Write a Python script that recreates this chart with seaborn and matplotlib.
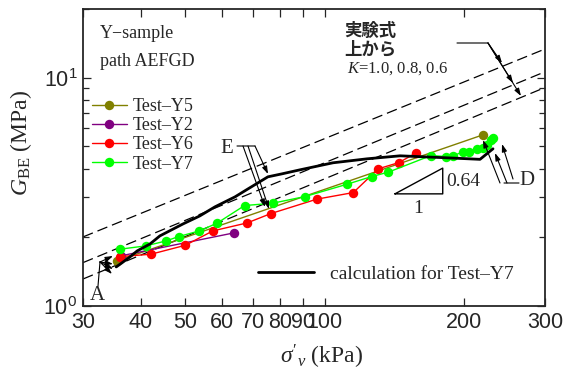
import numpy as np
import pandas as pd
import matplotlib
matplotlib.use('Agg')
import matplotlib.pyplot as plt
import seaborn as sns
from matplotlib.lines import Line2D
from matplotlib.ticker import FixedLocator, NullLocator, LogLocator, NullFormatter

# -------------------------
# Data
# -------------------------
y5_x = [35.5, 220.2]
y5_g = [1.575, 5.62]

y2_x = [36.3, 63.6]
y2_g = [1.66, 2.09]

y6_x = [36.0, 42.1, 50.0, 57.3, 68.0, 76.5, 96.2, 115.4, 130.7, 144.9, 157.9]
y6_g = [1.645, 1.686, 1.846, 2.133, 2.312, 2.54, 2.938, 3.14, 3.99, 4.25, 4.69]

y7_x = [36.0, 41.0, 45.4, 48.3, 53.6, 58.5, 67.1, 77.2, 90.7, 112.0, 126.5, 137.4,
        170.0, 183.2, 189.4, 199.0, 205.7, 214.1, 220.6, 224.4, 229.2, 231.0]
y7_g = [1.773, 1.833, 1.928, 2.014, 2.133, 2.305, 2.754, 2.82, 3.016, 3.418, 3.691, 3.858,
        4.562, 4.516, 4.549, 4.722, 4.722, 4.867, 4.917, 5.083, 5.347, 5.44]

# calculation for Test-Y7
calc_x = [35.4, 36.4, 37.9, 39.3, 41.9, 44.0, 49.4, 53.7, 57.9, 64.0, 68.3, 75.4,
          80.9, 88.5, 104.3, 123.6, 145.7, 184.1, 217.0, 231.5]
calc_g = [1.483, 1.544, 1.64, 1.743, 1.87, 2.028, 2.289, 2.481, 2.718, 3.007, 3.26, 3.68,
          3.793, 3.95, 4.24, 4.413, 4.549, 4.458, 4.39, 4.883]

# empirical equation, K = 1.0, 0.8, 0.6 (values at sigma'v = 30 and 300 kPa)
emp_x = [30, 300]
emp_k10 = [2.007, 13.36]
emp_k08 = [1.549, 10.62]
emp_k06 = [1.313, 9.06]

series = [('Test\u2013Y5', y5_x, y5_g, '#808000'),
          ('Test\u2013Y2', y2_x, y2_g, '#800080'),
          ('Test\u2013Y6', y6_x, y6_g, '#ff0000'),
          ('Test\u2013Y7', y7_x, y7_g, '#00ff00')]

xticks = [30, 40, 50, 60, 70, 80, 90, 100, 200, 300]

# -------------------------
# Style
# -------------------------
sns.set_style('ticks')
plt.rcParams['font.family'] = ['Liberation Sans', 'DejaVu Sans']
plt.rcParams['mathtext.fontset'] = 'custom'
plt.rcParams['mathtext.it'] = 'Liberation Serif:italic'
plt.rcParams['mathtext.rm'] = 'Liberation Serif'
SERIF = ['Liberation Serif', 'DejaVu Serif']
CJK = ['Noto Sans CJK JP', 'DejaVu Sans']

fig = plt.figure(figsize=(5.64, 3.74), dpi=100)
ax = fig.add_axes([83 / 564, 1 - 306 / 374, 462 / 564, 297 / 374])

# empirical lines
for g in (emp_k10, emp_k08, emp_k06):
    ax.plot(emp_x, g, color='k', lw=0.9, dashes=(8.5, 4))

# tests
for name, xs, gs, col in series:
    sns.lineplot(x=xs, y=gs, color=col, marker='o', markersize=6.8, markeredgewidth=0,
                 lw=1.0, estimator=None, sort=False, ax=ax, label=name)

# calculation
sns.lineplot(x=calc_x, y=calc_g, color='k', lw=2.0, estimator=None, sort=False, ax=ax)

ax.set_xscale('log')
ax.set_yscale('log')
ax.set_xlim(30, 300)
ax.set_ylim(1, 20)

ax.xaxis.set_major_locator(FixedLocator(xticks))
ax.xaxis.set_minor_locator(NullLocator())
ax.set_xticklabels([str(t) for t in xticks])
ax.yaxis.set_major_locator(LogLocator(base=10))
ax.yaxis.set_minor_locator(LogLocator(base=10, subs=np.arange(2, 10)))
ax.yaxis.set_minor_formatter(NullFormatter())
ax.tick_params(which='both', direction='in', top=True, right=True, labelsize=15.5, width=0.9, pad=4)
ax.tick_params(which='major', length=6)
ax.tick_params(which='minor', length=4)
for s in ax.spines.values():
    s.set_linewidth(1.3)

ax.set_ylabel('$G_{\\mathregular{BE}}$ (MPa)', fontsize=17, family=SERIF)
ax.yaxis.set_label_coords(-0.135, 0.55)
ax.yaxis.label.set_va('center')
ax.set_xlabel("$\\sigma'_{v}$ (kPa)", fontsize=17, family=SERIF)
ax.xaxis.set_label_coords(0.517, -0.17)
ax.xaxis.label.set_va('center')

# legends
leg = ax.legend(loc='upper left', bbox_to_anchor=(0.02, 0.70), frameon=False,
                prop={'family': SERIF, 'size': 13}, handlelength=1.9, handletextpad=0.35,
                labelspacing=0.12, borderpad=0, borderaxespad=0)
ax.add_artist(leg)
calc_handle = Line2D([], [], color='k', lw=2.0)
ax.legend([calc_handle], ['calculation for Test\u2013Y7'], loc='center left',
          bbox_to_anchor=(0.378, 0.108), frameon=False, prop={'family': SERIF, 'size': 14},
          handlelength=2.9, handletextpad=0.8, borderpad=0, borderaxespad=0)

# -------------------------
# Annotations (positions in pixels of the 564x374 figure -> axes fraction)
# -------------------------
def af(px, py):
    return ((px - 83) / 462, (306 - py) / 297)

def line(p0, p1, head=True):
    style = '-|>,head_length=0.45,head_width=0.15' if head else '-'
    ax.annotate('', xy=af(*p1), xytext=af(*p0), xycoords='axes fraction',
                textcoords='axes fraction',
                arrowprops=dict(arrowstyle=style, color='k', lw=0.8, shrinkA=0, shrinkB=0))

def label(px, py, s, size=13, ha='left', **kw):
    kw.setdefault('family', SERIF)
    ax.text(*af(px, py), s, transform=ax.transAxes, fontsize=size, ha=ha, va='center', **kw)

label(100, 33, 'Y\u2212sample')
label(100, 61, 'path AEFGD')

label(344, 31, '実験式', size=12.5, family=CJK, weight='bold')
label(344, 49, '上から', size=12.5, family=CJK, weight='bold')
label(347, 69, '$K$=1.0, 0.8, 0.6', size=12)

# K arrows
line((457, 43), (488, 43), head=False)
for p in [(502, 63), (513, 83), (521, 96)]:
    line((488, 43), p)

# E
label(227, 148, 'E', size=15, ha='center')
line((237, 146), (255, 146), head=False)
line((255, 146), (268, 174))
line((248, 146), (269, 209))
line((243, 146), (265, 207))

# D
label(527, 180, 'D', size=15, ha='center')
line((504, 183), (519, 183), head=False)
line((500, 183), (483, 140))
line((507, 183), (495, 153))
line((513, 179), (502, 144))

# A
label(97, 295, 'A', size=15, ha='center')
line((98, 286), (100, 262), head=False)
for p in [(113, 256), (113, 264), (113, 269), (112, 274)]:
    line((100, 262), p)

# slope triangle
tri_x = [142, 180.2, 180.2, 142]
tri_g = [3.099, 3.099, 4.018, 3.099]
ax.plot(tri_x, tri_g, color='k', lw=1.0)
label(446, 181, '0.64', size=14)
label(418, 208, '1', size=14, ha='center')

fig.savefig('out.png', dpi=100)
